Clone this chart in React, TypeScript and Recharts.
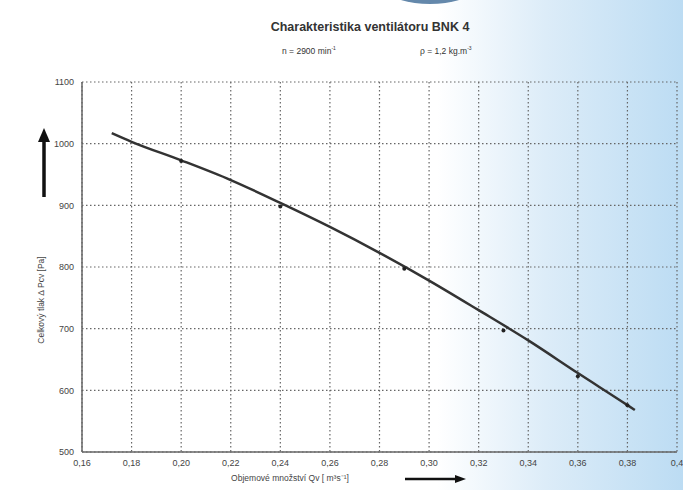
import React from 'react'
import { ComposedChart, Line, Scatter, XAxis, YAxis, CartesianGrid } from 'recharts'

// fitted characteristic curve  (Qv m3/s -> total pressure Pa)
const curveQ = [0.172, 0.18, 0.2, 0.22, 0.24, 0.26, 0.28, 0.3, 0.32, 0.34, 0.36, 0.38, 0.383]
const curveP = [1017, 1003, 973, 941, 904, 865, 823, 778, 730, 681, 628, 576, 568]

// measured points
const pointQ = [0.2, 0.24, 0.29, 0.33, 0.36, 0.38]
const pointP = [972, 898, 797, 697, 623, 576]

const xTicks = [0.16, 0.18, 0.2, 0.22, 0.24, 0.26, 0.28, 0.3, 0.32, 0.34, 0.36, 0.38, 0.4]
const yTicks = [500, 600, 700, 800, 900, 1000, 1100]

const curveData = curveQ.map((q, i) => ({ q, p: curveP[i] }))
const pointData = pointQ.map((q, i) => ({ q, p: pointP[i] }))

const fmtX = (v: number) => (v === 0.4 ? '0,4' : v.toFixed(2).replace('.', ','))

const tickStyle = { fontSize: 9, fill: '#444', fontFamily: 'Liberation Sans, Arial, sans-serif' }

const Dot = (props: any) => {
  const { cx, cy } = props
  return <circle cx={cx} cy={cy} r={2} fill="#222" />
}

export default function App() {
  return (
    <div
      style={{
        position: 'relative',
        width: 683,
        height: 490,
        fontFamily: 'Liberation Sans, Arial, sans-serif',
        background: 'linear-gradient(to right, #ffffff 0%, #ffffff 64%, #dcecf8 80%, #bcdcf3 100%)',
      }}
    >
      <style>{'body{margin:0}'}</style>
      <div style={{ position: 'absolute', left: 390, top: -22, width: 80, height: 26, borderRadius: '50%', background: '#3d6a96', opacity: 0.8 }} />
      <div style={{ position: 'absolute', left: 0, width: 740, top: 20, textAlign: 'center', fontSize: 12.5, fontWeight: 'bold', color: '#333' }}>
        Charakteristika ventilátoru BNK 4
      </div>
      <div style={{ position: 'absolute', left: 282, top: 45, fontSize: 8.5, color: '#333' }}>
        n = 2900 min<sup style={{ fontSize: 5 }}>-1</sup>
      </div>
      <div style={{ position: 'absolute', left: 420, top: 45, fontSize: 8.5, color: '#333' }}>
        ρ = 1,2 kg.m<sup style={{ fontSize: 5 }}>-3</sup>
      </div>
      <ComposedChart
        width={683}
        height={490}
        margin={{ top: 82, right: 6, bottom: 18, left: 42 }}
        style={{ position: 'absolute', left: 0, top: 0 }}
      >
        <CartesianGrid stroke="#666" strokeDasharray="1.5 2.5" strokeWidth={1.2} />
        <XAxis
          dataKey="q"
          type="number"
          domain={[0.16, 0.4]}
          ticks={xTicks}
          tickFormatter={fmtX}
          tick={tickStyle}
          tickLine={false}
          axisLine={{ stroke: '#666', strokeWidth: 1.5 }}
          height={20}
          allowDataOverflow
        />
        <YAxis
          dataKey="p"
          type="number"
          domain={[500, 1100]}
          ticks={yTicks}
          tick={tickStyle}
          tickLine={false}
          axisLine={{ stroke: '#666', strokeWidth: 1.5 }}
          width={40}
          allowDataOverflow
        />
        <Line
          data={curveData}
          dataKey="p"
          type="monotone"
          stroke="#333"
          strokeWidth={2.5}
          dot={false}
          isAnimationActive={false}
        />
        <Scatter data={pointData} dataKey="p" shape={<Dot />} isAnimationActive={false} />
      </ComposedChart>
      <svg width={683} height={490} style={{ position: 'absolute', left: 0, top: 0, pointerEvents: 'none' }}>
        <line x1={44} y1={197} x2={44} y2={140} stroke="#111" strokeWidth={3.5} />
        <polygon points="38,142 50,142 44,128" fill="#111" />
        <text x={44} y={300} transform="rotate(-90 44 300)" textAnchor="middle" fontSize={8.5} fill="#444">
          Celkový tlak  ∆ Pcv [Pa]
        </text>
        <text x={290} y={481} textAnchor="middle" fontSize={8.5} fill="#444">
          Objemové množství  Qv [ m³s⁻¹]
        </text>
        <line x1={405} y1={479} x2={456} y2={479} stroke="#111" strokeWidth={2.5} />
        <polygon points="455,475 455,483 466,479" fill="#111" />
      </svg>
    </div>
  )
}
